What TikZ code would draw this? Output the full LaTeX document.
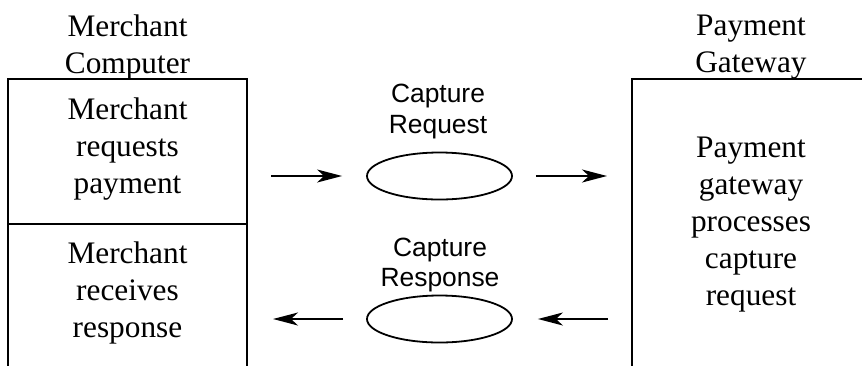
\documentclass[tikz,border=0pt]{standalone}
\usepackage{fontspec}
\setmainfont{Liberation Serif}
\newfontfamily\labelfont{Liberation Sans}
\usetikzlibrary{arrows.meta,shapes.geometric}
\begin{document}
\begin{tikzpicture}[x=1pt,y=-1pt,
  part/.style={draw, line width=1.8pt, rectangle, inner sep=0pt},
  serif/.style={font=\fontsize{31.3}{37}\selectfont, align=center, inner sep=0pt, anchor=north},
  sans/.style={font=\labelfont\fontsize{26.4}{30.5}\selectfont, align=center, inner sep=0pt, anchor=north},
  msg/.style={draw, ellipse, line width=1.8pt, minimum width=145pt, minimum height=47pt, inner sep=0pt},
  arr/.style={line width=1.8pt, -{Stealth[length=25pt,width=13pt,inset=7pt]}}]
\useasboundingbox (0,0) rectangle (862,365);

% merchant side: two stacked parts, open at the bottom
\node[part, minimum width=239pt, minimum height=145pt] (mtop) at (127.5,151.5) {};
\node[part, minimum width=239pt, minimum height=196pt] (mbot) at (127.5,322) {};
% gateway side, open at the bottom and right
\node[part, minimum width=268pt, minimum height=341pt] (gw) at (766,249.5) {};

% titles
\node[serif] (mtitle) at (127.5,14.6) {Merchant\\Computer};
\node[serif] (gtitle) at (751,15.3) {Payment\\Gateway};

% step texts
\node[serif] (mreq) at (127.5,97.6) {Merchant\\requests\\payment};
\node[serif] (mres) at (127.5,241.6) {Merchant\\receives\\response};
\node[serif] (gproc) at (751,136.3) {Payment\\gateway\\processes\\capture\\request};

% messages
\node[msg] (req) at (439.5,176) {};
\node[msg] (resp) at (439.5,319) {};
\node[sans] (reqlbl) at (438,84.1) {Capture\\Request};
\node[sans] (resplbl) at (440,237.8) {Capture\\Response};

% arrow ends
\coordinate (a1) at (271,176);
\coordinate (a2) at (607,176);
\coordinate (a3) at (273,319);
\coordinate (a4) at (608,319);

\draw[arr, shorten >=24pt] (a1) -- (req.west);
\draw[arr, shorten <=23pt] (req.east) -- (a2);
\draw[arr, shorten <=23pt] (resp.west) -- (a3);
\draw[arr, shorten >=25pt] (a4) -- (resp.east);
\end{tikzpicture}
\end{document}
